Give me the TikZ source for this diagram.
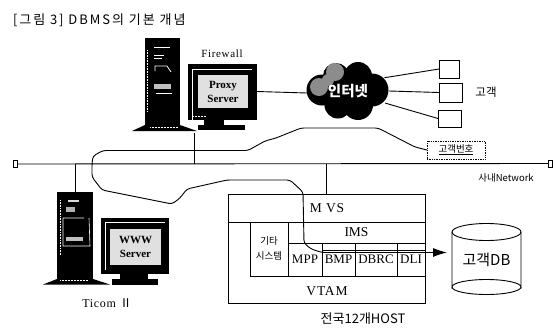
\documentclass[tikz,border=0pt]{standalone}
\usepackage{fontspec}
\setmainfont{Liberation Serif}
\newfontfamily\kr{Noto Sans CJK KR}
\newfontfamily\krt[LetterSpace=15]{Noto Sans CJK KR}
\newfontfamily\sps[LetterSpace=6]{Liberation Serif}
\usetikzlibrary{arrows.meta,shapes.geometric,calc}
\tikzset{
  ln/.style={draw=black,line width=0.9pt},
  cell/.style={draw=black,line width=0.9pt,inner sep=0pt,outer sep=0pt,font=\fontsize{13}{14}\selectfont},
  lab/.style={inner sep=0pt,outer sep=0pt,align=center},
  wire/.style={draw=black,line width=0.9pt,rounded corners=3pt},
  screen/.style={fill=black!12,draw=none,inner sep=0pt,outer sep=0pt,font=\bfseries\fontsize{11}{14}\selectfont,align=center},
}
\newcommand{\bx}[6]{% name x1 y1 x2 y2 text
  \pgfmathsetmacro{\bxw}{#4-#2}\pgfmathsetmacro{\bxh}{#5-#3}
  \node[cell,minimum width=\bxw pt,minimum height=\bxh pt] (#1) at ({(#2+#4)/2},{(#3+#5)/2}) {#6};}
\begin{document}
\begin{tikzpicture}[x=1pt,y=-1pt]
\useasboundingbox (0,0) rectangle (556,327);
\fill[white] (0,0) rectangle (556,327);

% title
\node[lab,anchor=west,font=\krt\fontsize{13}{14}\selectfont] (title) at (13,20) {[그림 3] DBMS의 기본 개념};

% bus
\node[cell,minimum width=4pt,minimum height=7pt] (busL) at (15,164) {};
\node[cell,minimum width=4pt,minimum height=7pt] (busR) at (550,163.5) {};
\draw[ln] (busL.east) -- (busR.west);

% firewall tower
\fill[black] (145,38) rectangle (180,125);
\fill[black] (145,125) -- (180,125) -- (197,131) -- (132,131) -- cycle;
\node[lab,minimum width=35pt,minimum height=87pt] (fwtower) at (162.5,81.5) {};
\draw[white,line width=0.6pt,densely dotted] (147.5,50) -- (147.5,112);
\draw[white,line width=0.6pt] (154,47.5) -- (170,47.5) (154,55) -- (164,55) (154,58) -- (162,58);
\draw[white,line width=0.7pt] (171,72) -- (167,66) -- (155,66) -- (155,71);
\fill[black!25] (154,84) rectangle (171,89);
\draw[white,line width=0.6pt] (156,93) -- (172,93);
\draw[white,line width=0.5pt,densely dotted] (150,127.5) -- (178,127.5);

% firewall monitor
\fill[black] (188,64) rectangle (257,120);
\draw[white,line width=0.6pt] (192,120) -- (192,69) -- (252,69);
\node[screen,minimum width=50pt,minimum height=33pt] (proxy) at (223,91.5) {Proxy\\Server};
\fill[black] (204,120) rectangle (224,125);
\fill[black] (198,125) rectangle (245,130);
\draw[white,line width=0.5pt,densely dotted] (193,116) -- (206,116);
\node[lab,font=\sps\fontsize{11}{12}\selectfont] (fwlabel) at (222,54) {Firewall};
\coordinate (fwdrop) at (194,133);

% cloud
\fill[black] (322,90) circle (15.5) (336,76) circle (13) (358,76) circle (14) (372,90) circle (16.5)
  (338,105) circle (13.5) (358,105) circle (15) (348,90) circle (22);
\fill[black!45] (335,72) circle (9) (319,87) circle (9) (328,80) circle (6);
\node[ellipse,inner sep=0pt,outer sep=0pt,minimum width=82pt,minimum height=58pt,text=white,font=\kr\bfseries\fontsize{14.5}{15}\selectfont] (cloud) at (348,91) {인터넷};

% customers
\bx{c1}{439}{60}{459}{78}{}
\bx{c2}{439}{83}{462}{102}{}
\bx{c3}{438}{110}{461}{127}{}
\node[lab,font=\kr\fontsize{11.5}{12}\selectfont] (custlab) at (486,92) {고객};
\draw[ln] (cloud.20) -- (c1.west);
\draw[ln] (cloud.east) -- (c2.west);
\draw[ln] (cloud.-18) -- (c3.west);
\draw[ln] (proxy.east -| 257,93) -- (cloud.west |- 0,93);

% customer number
\node[lab,draw=black,densely dotted,line width=0.7pt,minimum width=58pt,minimum height=18pt,font=\kr\fontsize{9.5}{10}\selectfont] (custno) at (456,150) {\underline{고객번호}};
\node[lab,font=\kr\fontsize{9.5}{10}\selectfont] (lan) at (506,178) {사내Network};

% firewall drop
\draw[ln] (fwdrop) -- (fwdrop |- busL.east);

% Ticom tower
\fill[black] (57,192) rectangle (93,279);
\fill[black] (57,279) -- (93,279) -- (110,284.5) -- (43,284.5) -- cycle;
\node[lab,minimum width=36pt,minimum height=87pt] (ttower) at (75,235.5) {};
\draw[ln] (ttower.north) -- (ttower.north |- busL.east);
\draw[white,line width=0.6pt,densely dotted] (60,200) -- (60,255);
\fill[black!15] (68,200) rectangle (79,202);
\fill[black!30] (66,207) rectangle (75,212);
\draw[white,line width=0.6pt] (63,246) -- (63,218) -- (84,218) (89,218) -- (90,246) -- (63,246);
\fill[black!25] (66,237) rectangle (83,241);
\draw[white,line width=0.5pt,densely dotted] (60,280.5) -- (88,280.5);

% Ticom monitor
\fill[black] (101,218) rectangle (169,274);
\draw[white,line width=0.6pt] (105,270) -- (105,222) -- (165,222);
\node[screen,minimum width=51pt,minimum height=36pt] (www) at (135.5,247) {WWW\\Server};
\fill[black] (120,274) rectangle (148,279);
\fill[black] (112,279) rectangle (158,285);
\node[lab,font=\sps\fontsize{12}{13}\selectfont] (ticom) at (107,303) {Ticom {\kr Ⅱ}};

% host block
\bx{host}{228}{194}{425}{303}{}
\draw[ln] (228,222) -- (425,222);
\node[lab,font=\sps\fontsize{13.5}{14}\selectfont] (mvs) at (327,208) {M VS};
\bx{other}{250}{222}{288}{276}{\kr\fontsize{9.5}{15}\selectfont\begin{tabular}{@{}c@{}}기타\\시스템\end{tabular}}
\bx{ims}{288}{222}{425}{243}{\fontsize{13.5}{14}\selectfont IMS}
\bx{mpp}{288}{243}{322}{276}{\raisebox{-6pt}{MPP}}
\bx{bmp}{322}{243}{355}{276}{\raisebox{-6pt}{BMP}}
\bx{dbrc}{355}{243}{397}{276}{\raisebox{-6pt}{DBRC}}
\bx{dli}{397}{243}{425}{276}{\raisebox{-6pt}{DLI}}
\draw[ln] (322,250) -- (425,250);
\node[lab,font=\sps\fontsize{13.5}{14}\selectfont] (vtam) at (327,291) {VTAM};
\node[lab,font=\kr\fontsize{13}{14}\selectfont] (hostlab) at (363,319) {전국12개HOST};
\draw[ln] (host.north -| 326,194) -- (326,163.5);

% customer DB
\node[lab,minimum width=69pt,minimum height=55pt] (db) at (486.5,259.5) {};
\draw[ln] (db.north west) -- (db.south west) arc[start angle=180,end angle=360,x radius=34.5,y radius=7.5]
  -- (db.north east);
\draw[ln] (db.south west) arc[start angle=180,end angle=0,x radius=34.5,y radius=7.5];
\draw[ln] (db.north west) arc[start angle=180,end angle=540,x radius=34.5,y radius=8.5];
\node[lab,font=\kr\fontsize{15}{16}\selectfont] (dbtext) at (db.center) {고객DB};

% route
\coordinate (junct) at (92,163.5);
\draw[wire] (custno.west) -- (415,147) -- (378,128) -- (301,128) -- (276,138) -- (265,141) -- (248,150.5) -- (103,150.5) -- (93,156) -- (junct)
  -- (92,177) -- (102,190) -- (172,204) -- (180,198) -- (187,189) -- (227,180) -- (290,180) -- (303,192) -- (304,243) -- (311,249) -- (322,252.5) -- (436,252.5);
\draw[-{Latex[length=14pt,width=9pt]},ln] (425,252.5) -- ([xshift=-5pt]db.west |- 0,252.5);
\end{tikzpicture}
\end{document}
